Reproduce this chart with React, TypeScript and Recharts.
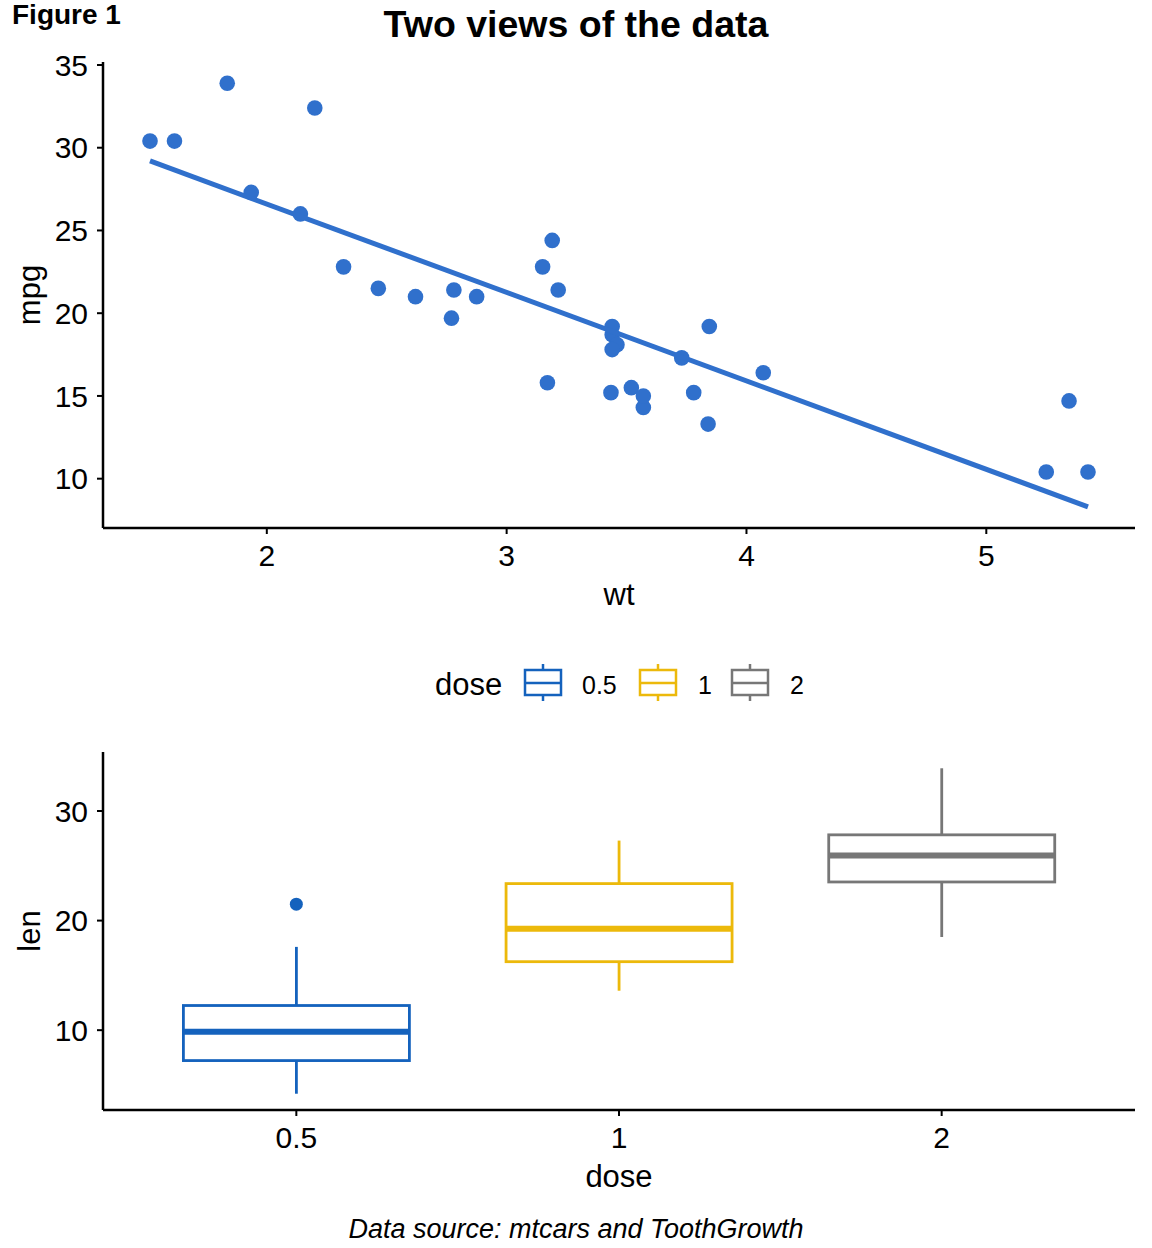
import React from "react";
import { ComposedChart, Scatter, Bar, XAxis, YAxis, Label } from "recharts";

const FONT = '"Liberation Sans", Arial, Helvetica, sans-serif';

// mtcars: weight (1000 lbs) and miles per gallon
const carWeights = [
  2.62, 2.875, 2.32, 3.215, 3.44, 3.46, 3.57, 3.19, 3.15, 3.44, 3.44, 4.07, 3.73, 3.78, 5.25, 5.424,
  5.345, 2.2, 1.615, 1.835, 2.465, 3.52, 3.435, 3.84, 3.845, 1.935, 2.14, 1.513, 3.17, 2.77, 3.57, 2.78,
];
const carMpg = [
  21, 21, 22.8, 21.4, 18.7, 18.1, 14.3, 24.4, 22.8, 19.2, 17.8, 16.4, 17.3, 15.2, 10.4, 10.4,
  14.7, 32.4, 30.4, 33.9, 21.5, 15.5, 15.2, 13.3, 19.2, 27.3, 26, 30.4, 15.8, 19.7, 15, 21.4,
];

// ends of the least-squares line mpg ~ wt
const fitWeights = [1.513, 5.424];
const fitMpg = [29.2, 8.3];

const wtTicks = [2, 3, 4, 5];
const mpgTicks = [10, 15, 20, 25, 30, 35];

// ToothGrowth: len by dose, five-number summaries
const doses = ["0.5", "1", "2"];
const lenLower = [4.2, 13.6, 18.5];
const lenQ1 = [7.225, 16.25, 23.525];
const lenMedian = [9.85, 19.25, 25.95];
const lenQ3 = [12.25, 23.375, 27.825];
const lenUpper = [17.6, 27.3, 33.9];
const outlierDoses = ["0.5"];
const outlierLen = [21.5];
const lenTicks = [10, 20, 30];

const pointBlue = "#3070CC";
const doseColors = ["#1462BD", "#ECB90B", "#777777"];

const cars = carWeights.map((wt, i) => ({ wt, mpg: carMpg[i] }));
const fitLine = fitWeights.map((wt, i) => ({ wt, mpg: fitMpg[i] }));
const boxes = doses.map((dose, i) => ({
  dose,
  lower: lenLower[i],
  q1: lenQ1[i],
  median: lenMedian[i],
  q3: lenQ3[i],
  upper: lenUpper[i],
}));
const outliers = outlierDoses.map((dose, i) => ({ dose, len: outlierLen[i] }));

const tickStyle = { fill: "#000", fontSize: 30, fontFamily: FONT };
const axisLine = { stroke: "#000", strokeWidth: 2.5 };
const tickLine = { stroke: "#000", strokeWidth: 2 };
const TITLE_SIZE = 31;

function YTitle({ viewBox, text }: any) {
  const cy = viewBox.y + viewBox.height / 2;
  return (
    <text
      x={40}
      y={cy}
      transform={`rotate(-90, 40, ${cy})`}
      textAnchor="middle"
      fill="#000"
      fontSize={TITLE_SIZE}
      fontFamily={FONT}
    >
      {text}
    </text>
  );
}

// box, whiskers and median, scaled off the bar's [lower, upper] extent
function BoxShape(props: any) {
  const { x, y, width, height, payload } = props;
  const color = doseColors[doses.indexOf(payload.dose)];
  const top = Math.min(y, y + height);
  const bottom = Math.max(y, y + height);
  const py = (v: number) =>
    bottom - ((v - payload.lower) / (payload.upper - payload.lower)) * (bottom - top);
  const cx = x + width / 2;
  return (
    <g>
      <line x1={cx} x2={cx} y1={py(payload.upper)} y2={py(payload.q3)} stroke={color} strokeWidth={2.8} />
      <line x1={cx} x2={cx} y1={py(payload.q1)} y2={py(payload.lower)} stroke={color} strokeWidth={2.8} />
      <rect
        x={x}
        y={py(payload.q3)}
        width={width}
        height={py(payload.q1) - py(payload.q3)}
        fill="#fff"
        stroke={color}
        strokeWidth={2.8}
      />
      <line
        x1={x}
        x2={x + width}
        y1={py(payload.median)}
        y2={py(payload.median)}
        stroke={color}
        strokeWidth={6}
      />
    </g>
  );
}

function DoseLegend() {
  const items = [
    { x: 525, labelX: 582 },
    { x: 640, labelX: 698 },
    { x: 732, labelX: 790 },
  ];
  return (
    <svg width={1152} height={60} style={{ position: "absolute", left: 0, top: 655 }}>
      <text x={435} y={40} fontSize={TITLE_SIZE} fontFamily={FONT} fill="#000">
        dose
      </text>
      {doses.map((d, i) => {
        const it = items[i];
        const c = doseColors[i];
        return (
          <g key={d}>
            <line x1={it.x + 18} x2={it.x + 18} y1={9} y2={46} stroke={c} strokeWidth={2.5} />
            <rect x={it.x} y={15} width={36} height={25} fill="#fff" stroke={c} strokeWidth={2.5} />
            <line x1={it.x} x2={it.x + 36} y1={28} y2={28} stroke={c} strokeWidth={2.5} />
            <text x={it.labelX} y={39} fontSize={25} fontFamily={FONT} fill="#000">
              {d}
            </text>
          </g>
        );
      })}
    </svg>
  );
}

export default function App() {
  return (
    <div
      style={{
        position: "absolute",
        left: 0,
        top: 0,
        width: 1152,
        height: 1248,
        background: "#fff",
        fontFamily: FONT,
      }}
    >
      <div style={{ position: "absolute", left: 12, top: -1, fontSize: 28, fontWeight: 700, lineHeight: "32px" }}>
        Figure 1
      </div>
      <div
        style={{
          position: "absolute",
          left: 0,
          width: 1152,
          top: 1,
          textAlign: "center",
          fontSize: 37.5,
          fontWeight: 700,
          lineHeight: "46px",
        }}
      >
        Two views of the data
      </div>

      <div style={{ position: "absolute", left: 0, top: 0 }}>
        <ComposedChart width={1152} height={620} margin={{ top: 62, right: 17, bottom: 0, left: 0 }}>
          <XAxis
            type="number"
            dataKey="wt"
            domain={[1.317, 5.62]}
            ticks={wtTicks}
            height={92}
            tick={tickStyle}
            tickSize={6}
            tickMargin={11}
            axisLine={axisLine}
            tickLine={tickLine}
          >
            <Label value="wt" position="insideBottom" offset={15} fill="#000" fontSize={TITLE_SIZE} fontFamily={FONT} />
          </XAxis>
          <YAxis
            type="number"
            dataKey="mpg"
            domain={[7.02, 35.18]}
            ticks={mpgTicks}
            width={103}
            tick={tickStyle}
            tickSize={6}
            tickMargin={9}
            axisLine={axisLine}
            tickLine={tickLine}
          >
            <Label content={(p: any) => <YTitle {...p} text="mpg" />} />
          </YAxis>
          <Scatter
            data={cars}
            isAnimationActive={false}
            shape={(p: any) => <circle cx={p.cx} cy={p.cy} r={7.8} fill={pointBlue} />}
          />
          <Scatter
            data={fitLine}
            isAnimationActive={false}
            line={{ stroke: pointBlue, strokeWidth: 5 }}
            shape={() => <g />}
          />
        </ComposedChart>
      </div>

      <DoseLegend />

      <div style={{ position: "absolute", left: 0, top: 640 }}>
        <ComposedChart
          width={1152}
          height={560}
          data={boxes}
          barCategoryGap="15%"
          margin={{ top: 112, right: 17, bottom: 0, left: 0 }}
        >
          <XAxis
            dataKey="dose"
            type="category"
            allowDuplicatedCategory={false}
            padding={{ left: 32, right: 32 }}
            height={90}
            tick={tickStyle}
            tickSize={6}
            tickMargin={11}
            axisLine={axisLine}
            tickLine={tickLine}
          >
            <Label value="dose" position="insideBottom" offset={13} fill="#000" fontSize={TITLE_SIZE} fontFamily={FONT} />
          </XAxis>
          <YAxis
            type="number"
            domain={[2.715, 35.385]}
            ticks={lenTicks}
            width={103}
            tick={tickStyle}
            tickSize={6}
            tickMargin={9}
            axisLine={axisLine}
            tickLine={tickLine}
          >
            <Label content={(p: any) => <YTitle {...p} text="len" />} />
          </YAxis>
          <Bar
            dataKey={(d: any) => [d.lower, d.upper]}
            isAnimationActive={false}
            shape={(p: any) => <BoxShape {...p} />}
          />
          <Scatter
            data={outliers}
            dataKey="len"
            isAnimationActive={false}
            shape={(p: any) => <circle cx={p.cx} cy={p.cy} r={6.5} fill={doseColors[0]} />}
          />
        </ComposedChart>
      </div>

      <div
        style={{
          position: "absolute",
          left: 0,
          width: 1152,
          top: 1213,
          textAlign: "center",
          fontSize: 27,
          fontStyle: "italic",
          lineHeight: "32px",
        }}
      >
        Data source: mtcars and ToothGrowth
      </div>
    </div>
  );
}
